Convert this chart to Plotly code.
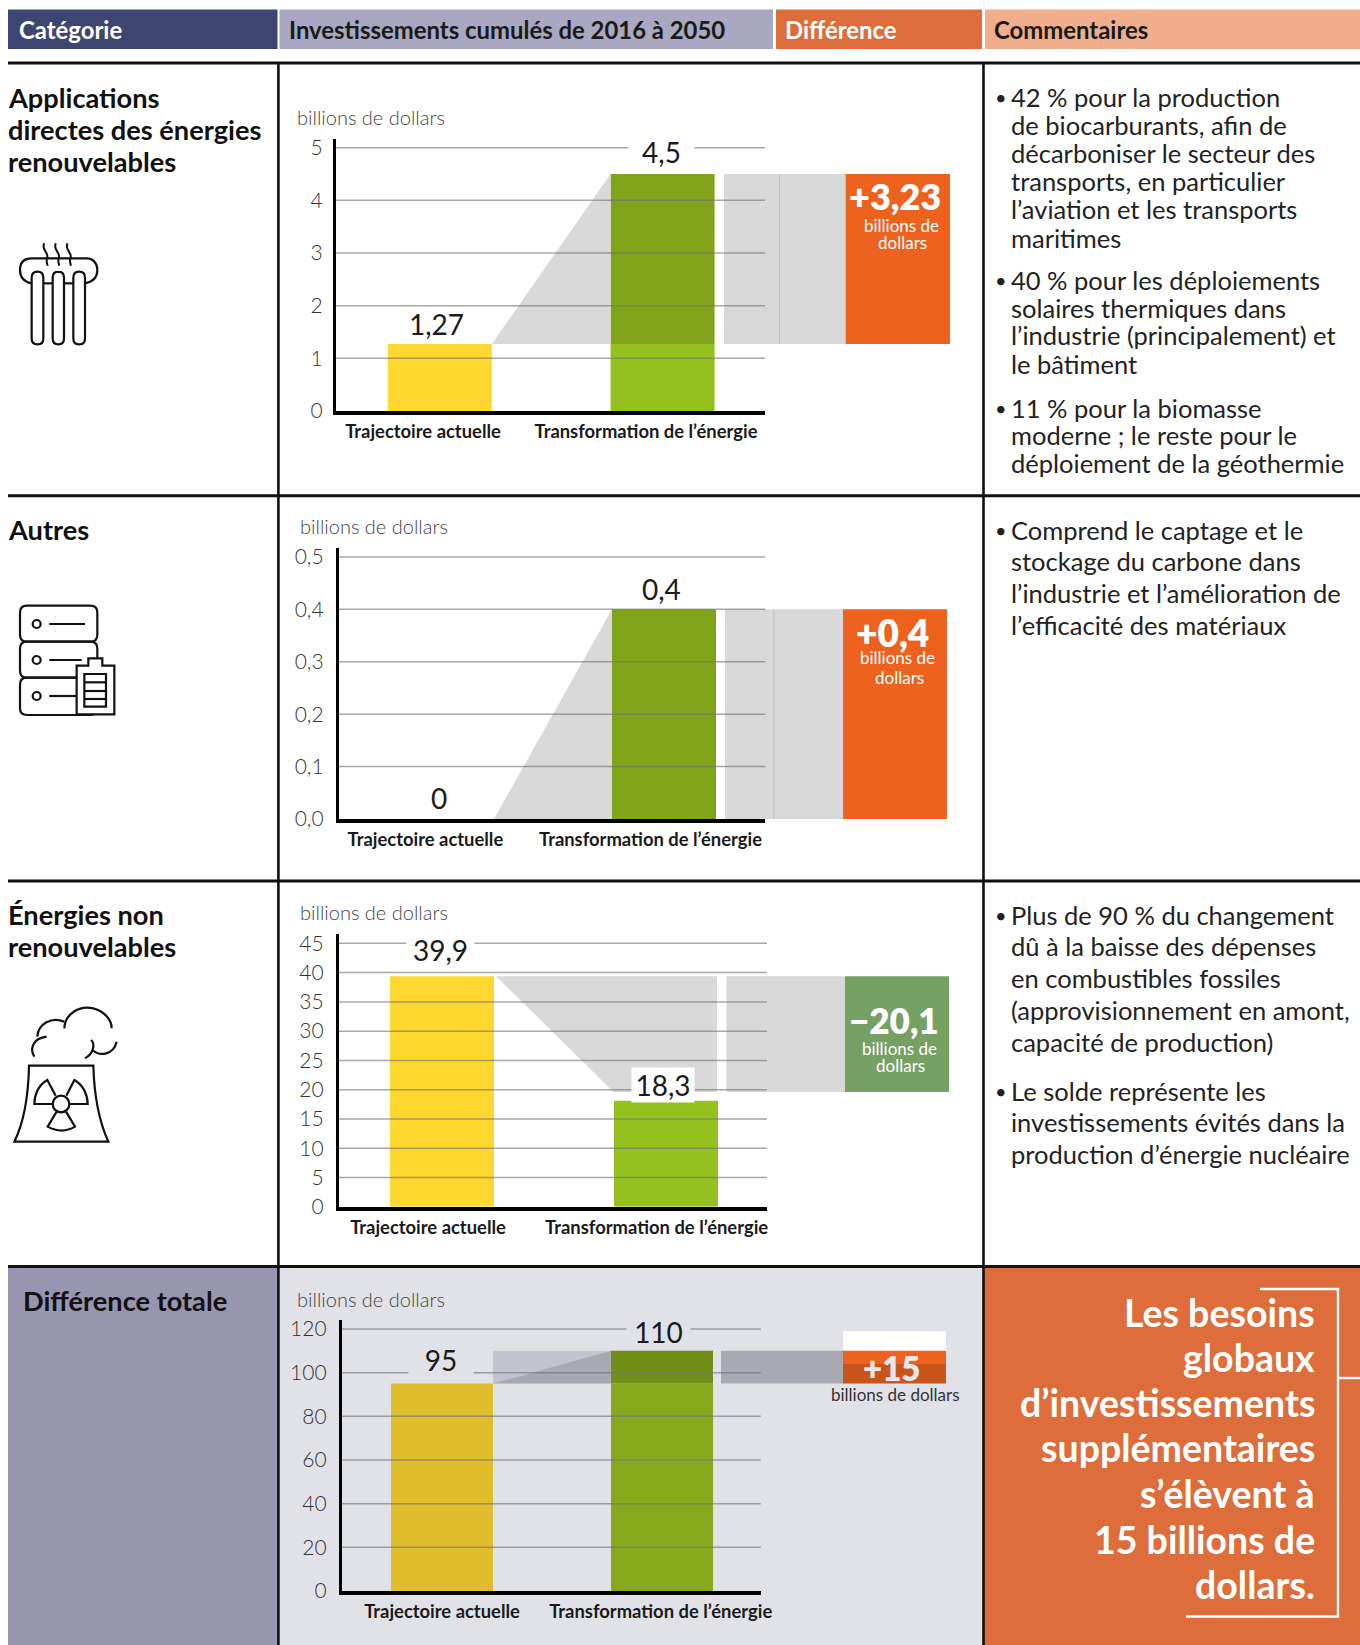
import plotly.graph_objects as go

W, H = 1360, 1645
FONT = "Lato"

# ---------- data ----------
categories = ["Trajectoire actuelle", "Transformation de l’énergie"]
unit_label = "billions de dollars"

renewables_values = [1.27, 4.5]
renewables_labels = ["1,27", "4,5"]
renewables_ticks = [0, 1, 2, 3, 4, 5]
renewables_ticktext = ["0", "1", "2", "3", "4", "5"]
renewables_delta = "+3,23"

others_values = [0, 0.4]
others_labels = ["0", "0,4"]
others_ticks = [0, 0.1, 0.2, 0.3, 0.4, 0.5]
others_ticktext = ["0,0", "0,1", "0,2", "0,3", "0,4", "0,5"]
others_delta = "+0,4"

nonrenew_values = [39.4, 18.1]
nonrenew_labels = ["39,9", "18,3"]
nonrenew_bridge_low = 19.6
nonrenew_ticks = [0, 5, 10, 15, 20, 25, 30, 35, 40, 45]
nonrenew_ticktext = ["0", "5", "10", "15", "20", "25", "30", "35", "40", "45"]
nonrenew_delta = "−20,1"

total_values = [95, 110]
total_labels = ["95", "110"]
total_ticks = [0, 20, 40, 60, 80, 100, 120]
total_ticktext = ["0", "20", "40", "60", "80", "100", "120"]
total_delta = "+15"
total_box_white = 9
total_box_split = 104

headers = ["Catégorie", "Investissements cumulés de 2016 à 2050", "Différence", "Commentaires"]
row_titles = [
    ["Applications", "directes des énergies", "renouvelables"],
    ["Autres"],
    ["Énergies non", "renouvelables"],
    ["Différence totale"],
]
comments_1 = [
    ["42 % pour la production", "de biocarburants, afin de", "décarboniser le secteur des",
     "transports, en particulier", "l’aviation et les transports", "maritimes"],
    ["40 % pour les déploiements", "solaires thermiques dans", "l’industrie (principalement) et", "le bâtiment"],
    ["11 % pour la biomasse", "moderne ; le reste pour le", "déploiement de la géothermie"],
]
comments_2 = [["Comprend le captage et le", "stockage du carbone dans",
               "l’industrie et l’amélioration de", "l’efficacité des matériaux"]]
comments_3 = [
    ["Plus de 90 % du changement", "dû à la baisse des dépenses", "en combustibles fossiles",
     "(approvisionnement en amont,", "capacité de production)"],
    ["Le solde représente les", "investissements évités dans la", "production d’énergie nucléaire"],
]
conclusion = ["Les besoins", "globaux", "d’investissements", "supplémentaires", "s’élèvent à",
              "15 billions de", "dollars."]

# ---------- layout geometry (pixels) ----------
P1 = dict(L=335.6, R=765, R2=950, c=(439.8, 662.6), bw=104, top=139, zero=411, ymax=5.165,
          lab=(423, 646), title=(297, 118.6), std=6)
P2 = dict(L=338.6, R=765.3, R2=947, c=(442, 664), bw=104, top=548, zero=819, ymax=0.517,
          lab=(425.4, 650.5), title=(300, 528), std=8)
P3 = dict(L=338.6, R=767, R2=949, c=(442, 666), bw=104, top=934, zero=1206.7, ymax=46.6,
          lab=(428, 656.6), title=(300, 914), std=8)
P4 = dict(L=341.6, R=760.8, R2=946, c=(442, 662), bw=102, top=1320, zero=1591, ymax=124.1,
          lab=(442, 660.7), title=(297, 1300), std=8)

YELLOW, GREEN, GREEN_D = "#ffd731", "#95c11f", "#80a31a"
Y4, G4, G4_D = "#e0bd2c", "#87a81c", "#728e18"
GRAY, ORANGE, SAGE = "#d9d9d9", "#ec621e", "#76a064"
GRID = "rgba(115,115,115,0.62)"
PANEL4 = "#e1e2e7"

fig = go.Figure()
shapes, annotations = [], []
layout = {}


def X(x):
    return x / W


def Y(y):
    return 1 - y / H


def text(x, y, s, size, color="#1a1a1a", weight=400, anchor="left", bg=None):
    dx = -1.5 if anchor == "left" else 0
    annotations.append(dict(xref="paper", yref="paper", x=X(x + dx), y=Y(y - 1.5), text=s, showarrow=False,
                            xanchor=anchor, yanchor="middle", borderpad=0,
                            font=dict(family=FONT, size=size, color=color, weight=weight)))


def rect(x0, y0, x1, y1, color, layer="below"):
    shapes.append(dict(type="rect", xref="paper", yref="paper", x0=X(x0), x1=X(x1), y0=Y(y0), y1=Y(y1),
                       fillcolor=color, line=dict(width=0), layer=layer))


def line(x0, y0, x1, y1, color="#111", width=2.6):
    shapes.append(dict(type="line", xref="paper", yref="paper", x0=X(x0), x1=X(x1), y0=Y(y0), y1=Y(y1),
                       line=dict(color=color, width=width), layer="above"))


def path(cmds, color="#111", width=2.2, fill=None):
    """cmds: list of (letter, x, y, ...) in pixels"""
    out = []
    for c in cmds:
        if c[0] == "Z":
            out.append("Z")
        else:
            pts = c[1:]
            out.append(c[0] + " ".join(f"{X(pts[i]):.5f},{Y(pts[i+1]):.5f}" for i in range(0, len(pts), 2)))
    shapes.append(dict(type="path", xref="paper", yref="paper", path=" ".join(out),
                       line=dict(color=color, width=width), fillcolor=fill or "rgba(0,0,0,0)", layer="above"))


def rrect(x0, y0, x1, y1, r, fill=None, width=2.2):
    path([("M", x0 + r, y0), ("L", x1 - r, y0), ("Q", x1, y0, x1, y0 + r), ("L", x1, y1 - r),
          ("Q", x1, y1, x1 - r, y1), ("L", x0 + r, y1), ("Q", x0, y1, x0, y1 - r), ("L", x0, y0 + r),
          ("Q", x0, y0, x0 + r, y0), ("Z",)], fill=fill, width=width)


def circle(cx, cy, r, fill=None):
    k = r * 0.5523
    path([("M", cx + r, cy), ("C", cx + r, cy + k, cx + k, cy + r, cx, cy + r),
          ("C", cx - k, cy + r, cx - r, cy + k, cx - r, cy), ("C", cx - r, cy - k, cx - k, cy - r, cx, cy - r),
          ("C", cx + k, cy - r, cx + r, cy - k, cx + r, cy), ("Z",)], fill=fill)


def axname(letter, i):
    return letter if i == 1 else f"{letter}{i}"


def panel(n, P, ticks, ticktext, values, labels, label_cfg, colors, bridge, box, bg):
    xa, xb, ya = axname("x", 2 * n - 1), axname("x", 2 * n), axname("y", n)
    u = P["c"][1] - P["c"][0]
    to_u = lambda px: (px - P["c"][0]) / u
    r0, r1, r2 = to_u(P["L"]), to_u(P["R"]), to_u(P["R2"])
    layout[axname("yaxis", n) if n > 1 else "yaxis"] = dict(
        domain=[Y(P["zero"]), Y(P["top"])], range=[0, P["ymax"]], anchor=xa, tickmode="array",
        tickvals=ticks, ticktext=ticktext, showgrid=False, zeroline=False, showline=True, automargin=False,
        linecolor="#000", linewidth=2.5, ticks="", ticklabelstandoff=P["std"], fixedrange=True,
        tickfont=dict(family=FONT, size=21, color="#333", weight=300))
    layout[axname("xaxis", 2 * n - 1)] = dict(
        domain=[X(P["L"]), X(P["R"])], range=[r0, r1], anchor=ya, tickmode="array",
        tickvals=[to_u(v) for v in P["lab"]], ticktext=categories, showgrid=False,
        zeroline=False, showline=True, linecolor="#000", linewidth=4, ticks="", automargin=False,
        ticklabelstandoff=1, fixedrange=True,
        tickfont=dict(family=FONT, size=18.4, color="#1a1a1a", weight=700))
    layout[axname("xaxis", 2 * n)] = dict(domain=[X(P["L"]), X(P["R2"])], range=[r0, r2], anchor=ya, visible=False,
                                          fixedrange=True, automargin=False)

    w = P["bw"] / u
    a, b = values
    low = min(a, b)
    # bridge and difference box on the wider overlay axis
    if bridge["kind"] == "up":
        if bridge.get("rect"):
            fig.add_trace(go.Bar(x=[0.5], y=[b - a], base=[a], width=[1 - w],
                                 marker=dict(color=bridge["rect"], line=dict(width=0)), xaxis=xb, yaxis=ya,
                                 showlegend=False, hoverinfo="skip"))
        fig.add_trace(go.Scatter(x=[0.5 * w, 1 - 0.5 * w, 1 - 0.5 * w, 0.5 * w], y=[a, b, a, a], mode="none",
                                 fill="toself", fillcolor=bridge["color"], xaxis=xb, yaxis=ya, showlegend=False,
                                 hoverinfo="skip"))
        lo, hi = a, b
    else:
        x_end = to_u(bridge["end"])
        x_bot = to_u(bridge["bottom"])
        lo, hi = bridge["low"], a
        fig.add_trace(go.Scatter(x=[0.5 * w + 2 / u, x_end, x_end, x_bot],
                                 y=[hi, hi, lo, lo], mode="none", fill="toself", fillcolor=bridge["color"],
                                 xaxis=xb, yaxis=ya, showlegend=False, hoverinfo="skip"))
    g0, g1 = to_u(bridge["g0"]), to_u(bridge["g1"])
    fig.add_trace(go.Bar(x=[(g0 + g1) / 2], y=[hi - lo], base=[lo], width=[g1 - g0],
                         marker=dict(color=bridge["color"], line=dict(width=0)), xaxis=xb, yaxis=ya,
                         showlegend=False, hoverinfo="skip"))
    if bridge.get("vline"):
        v = to_u(bridge["vline"])
        fig.add_trace(go.Scatter(x=[v, v], y=[lo, hi], mode="lines", line=dict(color="#bdbdbd", width=1),
                                 xaxis=xb, yaxis=ya, showlegend=False, hoverinfo="skip"))
    g2 = to_u(P["R2"])
    for seg in box:
        fig.add_trace(go.Bar(x=[(g1 + g2) / 2], y=[seg[1] - seg[0]], base=[seg[0]], width=[g2 - g1],
                             marker=dict(color=seg[2], line=dict(width=0)), xaxis=xb, yaxis=ya,
                             showlegend=False, hoverinfo="skip"))
    # main bars
    fig.add_trace(go.Bar(x=[0], y=[a], width=[w], marker=dict(color=colors[0], line=dict(width=0)),
                         xaxis=xa, yaxis=ya, showlegend=False, name=categories[0]))
    fig.add_trace(go.Bar(x=[1], y=[low], width=[w], marker=dict(color=colors[1], line=dict(width=0)),
                         xaxis=xa, yaxis=ya, showlegend=False, name=categories[1]))
    if b > low:
        fig.add_trace(go.Bar(x=[1], y=[b - low], base=[low], width=[w], marker=dict(color=colors[2], line=dict(width=0)),
                             xaxis=xa, yaxis=ya, showlegend=False, name=categories[1]))
    # gridlines above the bars
    for t in ticks:
        if t == 0:
            continue
        shapes.append(dict(type="line", xref=f"{xa} domain", yref=ya, x0=0, x1=1, y0=t, y1=t,
                           line=dict(color=GRID, width=1.5), layer="above"))
    # value labels
    for i, cfg in enumerate(label_cfg):
        d = dict(xref=xa, yref=ya, x=i, y=values[i], text=labels[i], showarrow=False, xanchor="center",
                 yanchor="middle", yshift=cfg["up"], xshift=cfg["dx"],
                 font=dict(family=FONT, size=28, color="#1a1a1a"))
        if cfg.get("w"):
            d.update(width=cfg["w"], height=cfg["h"], bgcolor=bg, align="center", valign="middle")
        annotations.append(d)
    text(P["title"][0], P["title"][1], unit_label, 20, "#444", 300)


# ---------- backgrounds ----------
rect(8, 9.5, 277.5, 49, "#3f4571")
rect(279.5, 9.5, 773, 49, "#a9a7c1")
rect(776, 9.5, 982, 49, "#dd6d3b")
rect(985, 9.5, 1360, 49, "#f0ae8c")
rect(8, 1266, 278, 1645, "#9895b0")
rect(278, 1266, 983, 1645, PANEL4)
rect(983, 1266, 1360, 1645, "#dd6d3b")

line(8, 63, 1360, 63, "#111", 3)
line(8, 495.7, 1360, 495.7, "#111", 3)
line(8, 881, 1360, 881, "#111", 3)
line(8, 1266.5, 1360, 1266.5, "#111", 3)
line(278.4, 63, 278.4, 1645)
line(983.5, 63, 983.5, 1645)

# ---------- header & row text ----------
for x, s, c in zip((19, 289, 786, 994), headers, ("#ffffff", "#1a1a1a", "#ffffff", "#1a1a1a")):
    text(x, 30.5, s, 23.9, c, 700)
for lines_, ys, x in zip(row_titles, ([98.6, 130.6, 162.7], [531], [916, 948], [1302]), (8, 8, 8, 23)):
    for s, y in zip(lines_, ys):
        text(x, y, s, 27.2, "#111", 700)


def comments(groups, yss, size=25.5):
    for g, ys in zip(groups, yss):
        text(995, ys[0], "•", 20, "#222")
        for s, y in zip(g, ys):
            text(1011.5, y, s, size, "#222")


comments(comments_1, ([98.6, 126.5, 154.3, 182.6, 210.9, 239.3], [281.2, 309.6, 336.9, 365.2],
                      [409.3, 436.5, 464.9]))
comments(comments_2, ([531, 562.5, 595, 626.5],))
comments(comments_3, ([916, 947.6, 979.6, 1011.6, 1043], [1092.5, 1123.9, 1155.4]))

for s, y in zip(conclusion, (1314, 1359, 1404, 1449, 1495, 1540.5, 1585.7)):
    text(1316, y, s, 37.5, "#ffffff", 700, "right")
path([("M", 1260, 1289), ("L", 1338, 1289), ("L", 1338, 1616.5), ("L", 1186, 1616.5)], "#ffffff", 2.4)
line(1338, 1378, 1360, 1378, "#ffffff", 2.4)

# ---------- panels ----------
panel(1, P1, renewables_ticks, renewables_ticktext, renewables_values, renewables_labels,
      [dict(up=20, dx=-3), dict(up=22, dx=-1.5, w=63, h=30)], (YELLOW, GREEN, GREEN_D),
      dict(kind="up", color=GRAY, g0=724, g1=845.6, vline=779.7),
      [(renewables_values[0], renewables_values[1], ORANGE)], "#ffffff")
panel(2, P2, others_ticks, others_ticktext, others_values, others_labels,
      [dict(up=21, dx=-3), dict(up=20, dx=-3)], (YELLOW, GREEN, GREEN_D),
      dict(kind="up", color=GRAY, g0=725, g1=843, vline=774),
      [(others_values[0], others_values[1], ORANGE)], "#ffffff")
panel(3, P3, nonrenew_ticks, nonrenew_ticktext, nonrenew_values, nonrenew_labels,
      [dict(up=26, dx=-2, w=65, h=30), dict(up=15.5, dx=-3.5, w=60, h=32)], (YELLOW, GREEN, GREEN_D),
      dict(kind="down", color=GRAY, low=nonrenew_bridge_low, end=717, bottom=613.5, g0=726.4, g1=845),
      [(nonrenew_bridge_low, nonrenew_values[0], SAGE)], "#ffffff")
panel(4, P4, total_ticks, total_ticktext, total_values, total_labels,
      [dict(up=24, dx=-1, w=62, h=30), dict(up=19, dx=-4, w=61, h=30)], (Y4, G4, G4_D),
      dict(kind="up", color="#a9a9b3", rect="#c4c4ce", g0=721, g1=843),
      [(total_values[1], total_values[1] + total_box_white, "#ffffff"),
       (total_box_split, total_values[1], ORANGE),
       (total_values[0], total_box_split, "#c9551c")], PANEL4)

# difference labels
text(895, 198, renewables_delta, 36, "#ffffff", 800, "center")
text(901, 226.6, "billions de", 17, "#ffffff", 400, "center")
text(902, 244.5, "dollars", 17, "#ffffff", 400, "center")
text(892, 634, others_delta, 37, "#ffffff", 800, "center")
text(897, 659, "billions de", 17, "#ffffff", 400, "center")
text(899, 679, "dollars", 17, "#ffffff", 400, "center")
text(894, 1021, nonrenew_delta, 35, "#ffffff", 800, "center")
text(899, 1049.6, "billions de", 17, "#ffffff", 400, "center")
text(900, 1067, "dollars", 17, "#ffffff", 400, "center")
text(891, 1369.5, total_delta, 33, "#e8e8e8", 800, "center")
text(895, 1396, unit_label, 17, "#333", 400, "center")


# ---------- icons ----------
def I(letter, offs, *pts):
    out = [letter]
    for i in range(0, len(pts), 2):
        out += [offs[0] + pts[i] / 3, offs[1] + pts[i + 1] / 3]
    return tuple(out)


o = (5, 230)
path([I("M", o, 80, 160), I("C", o, 55, 155, 45, 140, 45, 120), I("C", o, 45, 100, 55, 85, 80, 85),
      I("L", o, 245, 85), I("C", o, 265, 85, 277, 100, 277, 120), I("C", o, 277, 140, 265, 155, 240, 160)])
for a_, b_ in ((115, 143), (177, 205)):
    path([I("M", o, a_, 160), I("L", o, b_, 160)])
for x0_, x1_ in ((80, 115), (143, 177), (205, 240)):
    rrect(o[0] + x0_ / 3, o[1] + 125 / 3, o[0] + x1_ / 3, o[1] + 343 / 3, 5.8, fill="#ffffff")
for sx in (118, 153, 188):
    path([I("M", o, sx, 40), I("C", o, sx - 12, 58, sx + 16, 68, sx + 8, 85),
          I("C", o, sx + 5, 93, sx + 8, 100, sx + 10, 107)], width=2)

o = (5, 595)
for y0_, y1_ in ((32, 140), (140, 248), (248, 360)):
    rrect(o[0] + 45 / 3, o[1] + y0_ / 3, o[0] + 277 / 3, o[1] + y1_ / 3, 7)
for cy_, xe in ((87, 240), (195, 230), (303, 215)):
    circle(o[0] + 95 / 3, o[1] + cy_ / 3, 4)
    path([I("M", o, 133, cy_), I("L", o, xe, cy_)])
path([I("M", o, 215, 212), I("L", o, 250, 212), I("L", o, 250, 190), I("L", o, 292, 190), I("L", o, 292, 212),
      I("L", o, 328, 212), I("L", o, 328, 358), I("L", o, 215, 358), ("Z",)], fill="#ffffff")
rrect(o[0] + 238 / 3, o[1] + 237 / 3, o[0] + 303 / 3, o[1] + 335 / 3, 0)
for yy in (262, 288, 312):
    path([I("M", o, 238, yy), I("L", o, 303, yy)])

o = (5, 1000)
path([I("M", o, 28, 425), I("C", o, 55, 370, 70, 300, 72, 197), I("L", o, 265, 197),
      I("C", o, 268, 300, 285, 370, 310, 425), ("Z",)])
circle(o[0] + 168 / 3, o[1] + 312 / 3, 8.3)
path([I("M", o, 152, 287), I("L", o, 127, 240), I("C", o, 100, 255, 88, 285, 88, 312), I("L", o, 143, 312)])
path([I("M", o, 184, 287), I("L", o, 208, 240), I("C", o, 235, 255, 248, 285, 248, 312), I("L", o, 193, 312)])
path([I("M", o, 155, 335), I("L", o, 128, 380), I("C", o, 155, 395, 185, 395, 210, 380), I("L", o, 183, 335)])
path([I("M", o, 88, 170), I("C", o, 75, 150, 80, 115, 125, 110)])
path([I("M", o, 97, 110), I("C", o, 100, 70, 140, 50, 178, 65)])
path([I("M", o, 178, 85), I("C", o, 180, 40, 225, 15, 265, 25), I("C", o, 300, 35, 320, 60, 320, 85)])
path([I("M", o, 258, 120), I("C", o, 270, 130, 268, 160, 240, 175)])
path([I("M", o, 262, 150), I("C", o, 285, 170, 325, 165, 335, 125)])

fig.update_layout(width=W, height=H, margin=dict(l=0, r=0, t=0, b=0, autoexpand=False), barmode="overlay",
                  paper_bgcolor="#ffffff", plot_bgcolor="rgba(0,0,0,0)", showlegend=False,
                  shapes=shapes, annotations=annotations, font=dict(family=FONT), **layout)
fig.write_html("out.html", config={"displayModeBar": False},
               post_script="document.body.style.margin='0';document.documentElement.style.overflow='hidden';")
